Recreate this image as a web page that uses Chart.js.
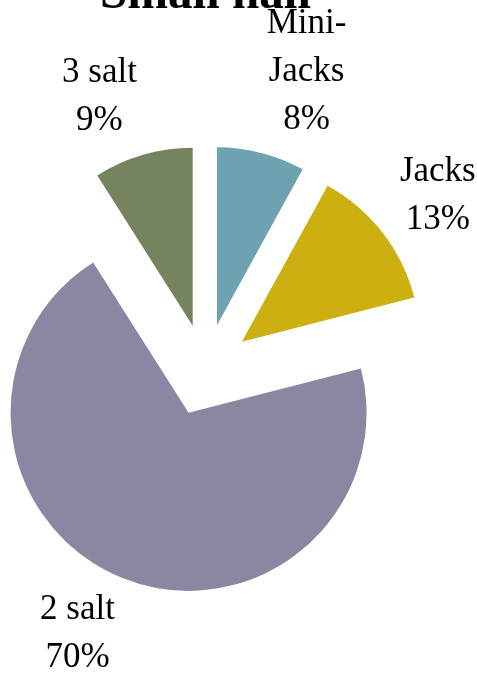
<!DOCTYPE html>
<html>
<head>
<meta charset="utf-8">
<script src="https://cdn.jsdelivr.net/npm/chart.js@4.4.1/dist/chart.umd.min.js"></script>
<style>
  html, body { margin: 0; padding: 0; background: #fff; overflow: hidden; }
  #wrap { position: relative; width: 477px; height: 674px; overflow: hidden; }
  /* title sits mostly above the visible frame, like the original export */
  #chart { position: absolute; left: 0; top: -34px; }
</style>
</head>
<body>
<div id="wrap"><canvas id="chart" width="477" height="749"></canvas></div>
<script>
const categories = ['Mini-Jacks', 'Jacks', '2 salt', '3 salt'];
const shares = [8, 13, 70, 9];
const sliceColors = ['#6ea2b0', '#ccaf10', '#8b87a3', '#75835f'];

const EXPLODE = 46;   // px every slice is pulled out
const RADIUS = 178;
const LABEL_FONT = '35px "Liberation Serif", serif';
const LINE_H = 48;

// Arc that is pushed out along its bisector without Chart.js' hover-offset
// radius/angle tweaks, so all slices keep the same size.
class ExplodedArc extends Chart.ArcElement {
  draw(ctx) {
    const mid = (this.startAngle + this.endAngle) / 2;
    ctx.save();
    ctx.translate(Math.cos(mid) * EXPLODE, Math.sin(mid) * EXPLODE);
    super.draw(ctx);
    ctx.restore();
  }
}
ExplodedArc.id = 'explodedArc';

class ExplodedPie extends Chart.PieController {}
ExplodedPie.id = 'explodedPie';
ExplodedPie.defaults = { dataElementType: 'explodedArc' };

Chart.register(ExplodedArc, ExplodedPie);

function wrapLabel(ctx, text, maxW) {
  if (ctx.measureText(text).width <= maxW) return [text];
  const cut = text.indexOf('-');
  if (cut > 0) return [text.slice(0, cut + 1), text.slice(cut + 1)];
  const sp = text.lastIndexOf(' ');
  if (sp > 0) return [text.slice(0, sp), text.slice(sp + 1)];
  return [text];
}

// category + percent, outside each exploded slice
const outsideLabels = {
  id: 'outsideLabels',
  afterDatasetsDraw(chart) {
    const ctx = chart.ctx;
    const arcs = chart.getDatasetMeta(0).data;
    const total = shares.reduce((a, b) => a + b, 0);
    ctx.save();
    ctx.font = LABEL_FONT;
    ctx.fillStyle = '#000';
    ctx.textAlign = 'center';
    ctx.textBaseline = 'middle';
    arcs.forEach((arc, i) => {
      const lines = wrapLabel(ctx, categories[i], 110);
      lines.push(Math.round(shares[i] / total * 100) + '%');
      const w = Math.max(...lines.map(l => ctx.measureText(l).width));
      const h = lines.length * LINE_H;
      const mid = (arc.startAngle + arc.endAngle) / 2;
      const cos = Math.cos(mid), sin = Math.sin(mid);
      const rx = arc.outerRadius + EXPLODE + 22, ry = arc.outerRadius + EXPLODE + 12;
      const cx = arc.x + rx * cos + Math.sign(cos) * w / 2;
      const cy = arc.y + ry * sin + sin * h / 2;
      lines.forEach((l, k) => ctx.fillText(l, cx, cy + (k - (lines.length - 1) / 2) * LINE_H));
    });
    ctx.restore();
  }
};

new Chart(document.getElementById('chart'), {
  type: 'explodedPie',
  data: {
    labels: categories,
    datasets: [{
      data: shares,
      backgroundColor: sliceColors,
      borderWidth: 0,
    }],
  },
  options: {
    responsive: false,
    animation: false,
    events: [],
    radius: RADIUS,
    layout: { padding: { left: 0, right: 66, top: 0, bottom: 0 } },
    plugins: {
      legend: { display: false },
      tooltip: { enabled: false },
      title: {
        display: true,
        text: 'Small hall',
        color: '#000',
        padding: 0,
        font: { family: '"Liberation Serif", serif', size: 49, weight: 'bold' },
      },
    },
  },
  plugins: [outsideLabels],
});
</script>
</body>
</html>
